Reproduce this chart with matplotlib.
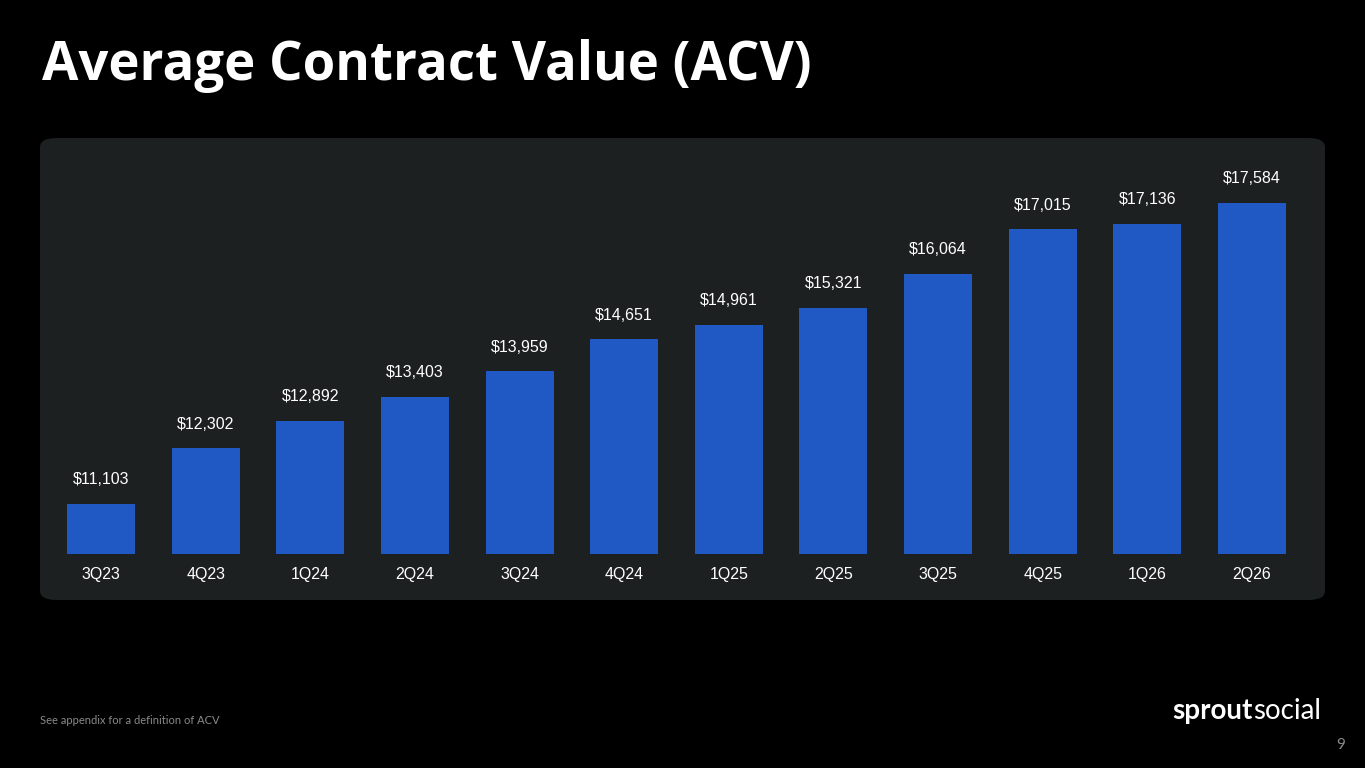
import matplotlib.pyplot as plt
from matplotlib.patches import FancyBboxPatch

quarters = ["3Q23", "4Q23", "1Q24", "2Q24", "3Q24", "4Q24",
            "1Q25", "2Q25", "3Q25", "4Q25", "1Q26", "2Q26"]
acv = [11103, 12302, 12892, 13403, 13959, 14651,
       14961, 15321, 16064, 17015, 17136, 17584]

W, H = 1365, 768
fig = plt.figure(figsize=(W / 100, H / 100), dpi=100)
fig.patch.set_facecolor("black")

# dark panel behind the chart
panel = FancyBboxPatch((40 / W, 1 - 600 / H), 1285 / W, 462 / H,
                       boxstyle="round,pad=0,rounding_size=0.012",
                       transform=fig.transFigure, facecolor="#1c2020",
                       edgecolor="none", zorder=-5)
fig.add_artist(panel)

ax = fig.add_axes([48.7 / W, 1 - 554 / H, (1304.3 - 48.7) / W, 394 / H])
ax.set_zorder(2)
ax.set_facecolor("none")
ax.bar(range(len(acv)), acv, width=0.65, color="#2159c4", zorder=2)
ax.set_xlim(-0.5, len(acv) - 0.5)
ax.set_ylim(10026, 18509)
for i, v in enumerate(acv):
    ax.annotate(f"${v:,}", (i, v), xytext=(0, 12), textcoords="offset points",
                ha="center", va="bottom", color="white", fontsize=11.5,
                family="Liberation Sans")
ax.set_xticks(range(len(quarters)))
ax.set_xticklabels(quarters, color="white", fontsize=11.5, family="Liberation Sans")
ax.tick_params(axis="x", length=0, pad=9)
ax.set_yticks([])
for s in ax.spines.values():
    s.set_visible(False)

fig.text(42 / W, 1 - 80 / H, "Average Contract Value (ACV)", color="white",
         fontsize=38, fontweight="bold", family="Open Sans", va="baseline", ha="left")
fig.text(40 / W, 1 - 721 / H, "See appendix for a definition of ACV",
         color="#8a8a8a", fontsize=8, family="Lato", va="center")

# logo
t = fig.text(1172 / W, 1 - 719 / H, "sprout", color="white", fontsize=20,
             fontweight="bold", family="Lato", va="baseline")
fig.canvas.draw()
bb = t.get_window_extent()
fig.text(bb.x1 / W + 1 / W, 1 - 719 / H, "social", color="white", fontsize=20,
         fontweight="normal", family="Lato", va="baseline")
fig.text(1341 / W, 1 - 745 / H, "9", color="#8a8a8a", fontsize=11,
         family="Lato", va="center", ha="center")

fig.savefig("out.png", dpi=100, facecolor="black")
